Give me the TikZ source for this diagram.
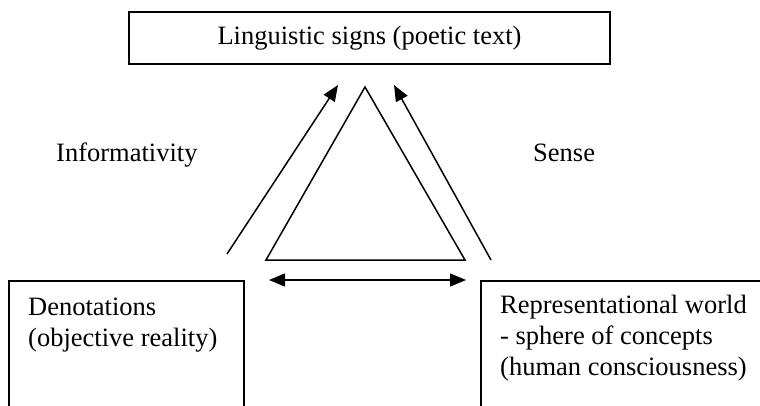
\documentclass[tikz,border=0pt]{standalone}
\usepackage{fontspec}
\setmainfont{Liberation Serif}
\usetikzlibrary{arrows.meta}
\tikzset{
  box/.style={draw, line width=1.8pt, inner sep=0pt},
  txt/.style={inner sep=0pt, anchor=base west, font=\fontsize{26.5}{31}\selectfont},
  link/.style={line width=1.5pt, -{Triangle[length=16pt,width=13pt]}}
}
\begin{document}
\begin{tikzpicture}[x=1pt,y=-1pt]
      \useasboundingbox (0,0) rectangle (760,406);
      \clip (0,0) rectangle (760,406);
      % boxes
      \node [box, minimum width=481pt, minimum height=52pt, font=\fontsize{26.5}{31}\selectfont] (signs) at (369.5,38) {Linguistic signs (poetic text)};
      \node [box, anchor=north west, minimum width=235pt, minimum height=200pt] (denot) at (8,280) {};
      \node [box, anchor=north west, minimum width=320pt, minimum height=200pt] (world) at (480,280) {};
      \node [txt] (d1) at (28,315) {Denotations};
      \node [txt] (d2) at (28,346) {(objective reality)};
      \node [txt] (w1) at (500,313) {Representational world};
      \node [txt] (w2) at (500,344) {- sphere of concepts};
      \node [txt] (w3) at (500,375) {(human consciousness)};
      \node [txt] (inform) at (56,162) {Informativity};
      \node [txt] (sense) at (533,162) {Sense};
      % triangle
      \coordinate (T) at (365,87);
      \coordinate (L) at (266,260);
      \coordinate (R) at (465,260);
      \draw [line width=1.5pt, line join=miter] (T) -- (L) -- (R) -- cycle;
      % arrows
      \coordinate (infA) at (227,254);
      \coordinate (infB) at (338,85);
      \coordinate (senA) at (491,260);
      \coordinate (senB) at (394,85);
      \coordinate (refA) at (269,280);
      \coordinate (refB) at (466,280);
      \draw [link] (infA) -- (infB);
      \draw [link] (senA) -- (senB);
      \draw [link, {Triangle[length=16pt,width=13pt]}-{Triangle[length=16pt,width=13pt]}] (refA) -- (refB);
    \end{tikzpicture}
\end{document}
